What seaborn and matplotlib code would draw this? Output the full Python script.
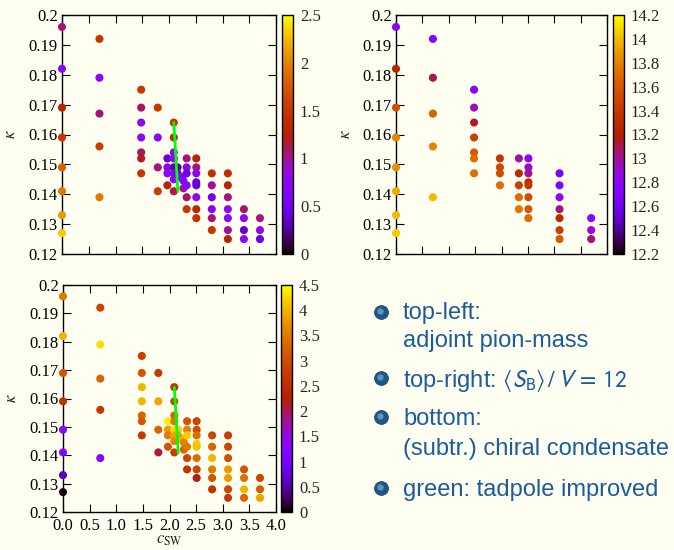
import numpy as np
import pandas as pd
import matplotlib
matplotlib.use("Agg")
import matplotlib.pyplot as plt
import seaborn as sns
from matplotlib.colors import Normalize
from matplotlib.cm import ScalarMappable

# parameter points (c_SW, kappa), shared by the pion-mass and condensate panels
csw = [0.0, 0.0, 0.0, 0.0, 0.0, 0.0, 0.0, 0.0,
       0.7, 0.7, 0.7, 0.7, 0.7,
       1.48, 1.48, 1.48, 1.48, 1.48, 1.48, 1.48,
       1.79, 1.79, 1.79, 1.79,
       1.97, 1.97, 1.97, 1.97,
       2.09, 2.09, 2.09, 2.09, 2.09, 2.09, 2.09, 2.09,
       2.16, 2.16, 2.2, 2.24, 2.27, 2.27,
       2.33, 2.33, 2.33, 2.33, 2.33, 2.33,
       2.51, 2.51, 2.51, 2.51, 2.51, 2.51, 2.51, 2.51,
       2.8, 2.8, 2.8, 2.8, 2.8, 2.8,
       3.1, 3.1, 3.1, 3.1, 3.1, 3.1, 3.1,
       3.4, 3.4, 3.4, 3.4,
       3.7, 3.7, 3.7]
kappa = [0.196, 0.182, 0.169, 0.159, 0.149, 0.141, 0.133, 0.127,
         0.192, 0.179, 0.167, 0.156, 0.139,
         0.175, 0.169, 0.164, 0.159, 0.154, 0.152, 0.147,
         0.169, 0.159, 0.149, 0.141,
         0.152, 0.149, 0.147, 0.143,
         0.164, 0.159, 0.154, 0.152, 0.149, 0.147, 0.145, 0.141,
         0.149, 0.147, 0.146, 0.1455, 0.1445, 0.142,
         0.152, 0.149, 0.147, 0.143, 0.139, 0.135,
         0.152, 0.149, 0.147, 0.144, 0.143, 0.139, 0.135, 0.132,
         0.147, 0.143, 0.139, 0.135, 0.132, 0.128,
         0.147, 0.143, 0.139, 0.135, 0.132, 0.128, 0.125,
         0.135, 0.132, 0.128, 0.125,
         0.132, 0.128, 0.125]
pion_mass = [1.05, 0.75, 1.3, 1.5, 1.8, 1.95, 2.1, 2.3,
             1.5, 0.75, 1.05, 1.55, 1.95,
             1.5, 1.1, 0.75, 0.75, 1.1, 1.2, 1.5,
             1.5, 0.75, 1.05, 1.55,
             0.4, 0.7, 0.75, 1.3,
             1.5, 1.35, 0.8, 0.7, 0.3, 0.7, 0.7, 1.15,
             0.3, 0.4, 0.6, 0.65, 0.7, 1.0,
             1.05, 0.75, 0.45, 0.7, 1.1, 1.5,
             1.3, 1.05, 0.75, 0.4, 0.4, 0.75, 1.35, 1.45,
             1.45, 1.0, 0.45, 0.75, 1.05, 1.5,
             1.4, 1.3, 1.05, 0.75, 0.7, 1.0, 1.3,
             1.1, 0.75, 0.4, 0.75,
             1.05, 0.8, 0.45]
condensate = [3.5, 4.0, 3.1, 2.6, 1.4, 1.2, 0.6, 0.05,
              2.9, 4.3, 3.3, 2.7, 1.2,
              2.8, 3.1, 4.0, 4.0, 3.3, 3.1, 2.7,
              2.7, 3.9, 3.3, 2.1,
              4.4, 3.8, 3.5, 3.1,
              2.6, 2.9, 3.3, 3.4, 4.3, 3.9, 3.6, 2.8,
              4.2, 3.9, 3.8, 4.0, 3.6, 3.3,
              3.1, 3.6, 4.2, 3.5, 2.9, 2.6,
              2.9, 3.0, 3.4, 4.2, 4.1, 3.4, 2.9, 2.2,
              2.9, 3.3, 4.0, 3.5, 3.1, 2.6,
              2.8, 2.9, 3.0, 3.8, 3.8, 2.9, 2.7,
              3.1, 3.4, 4.0, 3.3,
              2.9, 3.2, 3.9]

# subset used for the plaquette action <S_B>/V
csw_s = [0.0, 0.0, 0.0, 0.0, 0.0, 0.0, 0.0, 0.0,
         0.7, 0.7, 0.7, 0.7, 0.7,
         1.48, 1.48, 1.48, 1.48, 1.48, 1.48, 1.48,
         1.97, 1.97, 1.97, 1.97,
         2.33, 2.33, 2.33, 2.33, 2.33,
         2.51, 2.51, 2.51, 2.51, 2.51, 2.51, 2.51, 2.51,
         3.1, 3.1, 3.1, 3.1, 3.1, 3.1, 3.1,
         3.7, 3.7, 3.7]
kappa_s = [0.196, 0.182, 0.169, 0.159, 0.149, 0.141, 0.133, 0.127,
           0.192, 0.179, 0.167, 0.156, 0.139,
           0.175, 0.169, 0.164, 0.159, 0.154, 0.152, 0.147,
           0.152, 0.149, 0.147, 0.143,
           0.152, 0.147, 0.143, 0.139, 0.135,
           0.152, 0.149, 0.147, 0.144, 0.143, 0.139, 0.135, 0.132,
           0.147, 0.143, 0.139, 0.135, 0.132, 0.128, 0.125,
           0.132, 0.128, 0.125]
action = [12.8, 13.25, 13.55, 13.8, 13.85, 13.95, 14.0, 14.05,
          12.75, 13.1, 13.65, 13.8, 14.0,
          12.75, 12.95, 13.15, 13.45, 13.6, 13.7, 13.7,
          13.4, 13.5, 13.55, 13.7,
          12.95, 13.3, 13.45, 13.7, 13.75,
          12.75, 12.9, 13.0, 13.3, 13.4, 13.55, 13.6, 13.7,
          12.65, 12.75, 12.8, 13.05, 13.3, 13.45, 13.6,
          12.75, 12.9, 13.05]

# tadpole improved line
tad_csw = [2.09, 2.165]
tad_kappa = [0.164, 0.141]

cb_ticks_pion = [0, 0.5, 1, 1.5, 2, 2.5]
cb_ticks_action = [12.2, 12.4, 12.6, 12.8, 13.0, 13.2, 13.4, 13.6, 13.8, 14.0, 14.2]
cb_ticks_cond = [0, 0.5, 1, 1.5, 2, 2.5, 3, 3.5, 4, 4.5]

bullets = [
    ("top-left:", "adjoint pion-mass"),
    (r"top-right: $\langle S_{\mathrm{B}}\rangle\,/\,V\,=\,12$", None),
    ("bottom:", "(subtr.) chiral condensate"),
    ("green: tadpole improved", None),
]

bg = "#fefef1"
sns.set_theme(style="ticks")
plt.rcParams["font.family"] = ["Liberation Serif", "DejaVu Serif"]
plt.rcParams["figure.facecolor"] = bg
plt.rcParams["axes.facecolor"] = bg
plt.rcParams["axes.edgecolor"] = "black"
plt.rcParams["axes.linewidth"] = 1.0

fig = plt.figure(figsize=(6.74, 5.5), dpi=100)
W, H = 674, 550


def box(x0, x1, y0, y1):
    return [x0 / W, 1 - y1 / H, (x1 - x0) / W, (y1 - y0) / H]


def fmt(v):
    return f"{round(v, 2):g}"


def panel(rect, crect, x, y, v, vmin, vmax, cticks, xlabels, tadpole=True):
    ax = fig.add_axes(rect)
    cax = fig.add_axes(crect)
    df = pd.DataFrame({"csw": x, "kappa": y, "v": v})
    sns.scatterplot(data=df, x="csw", y="kappa", hue="v", palette="gnuplot",
                    hue_norm=(vmin, vmax), s=34, linewidth=0, legend=False,
                    ax=ax, clip_on=False, zorder=3)
    if tadpole:
        ax.plot(tad_csw, tad_kappa, color="#00ff00", lw=2, zorder=4)
    ax.set_xlim(0, 4)
    ax.set_ylim(0.12, 0.2)
    xt = np.arange(0, 4.01, 0.5)
    yt = np.arange(0.12, 0.2001, 0.01)
    ax.set_xticks(xt)
    ax.set_yticks(yt)
    ax.set_yticklabels([fmt(t) for t in yt])
    if xlabels:
        ax.set_xticklabels([f"{t:.1f}" for t in xt])
        ax.set_xlabel(r"$c_{\mathrm{SW}}$", fontsize=12, math_fontfamily="stix")
        ax.xaxis.set_label_coords(0.5, -0.09)
    else:
        ax.set_xticklabels([])
        ax.set_xlabel("")
    ax.set_ylabel(r"$\kappa$", fontsize=12, math_fontfamily="stix")
    ax.yaxis.set_label_coords(-0.2, 0.5)
    ax.tick_params(direction="in", length=5.5, width=0.8, top=True, right=True,
                   labelsize=12, colors="black")
    ax.tick_params(axis="y", pad=3)
    ax.tick_params(axis="x", pad=4)
    for s in ax.spines.values():
        s.set_visible(True)
        s.set_linewidth(1.0)

    sm = ScalarMappable(norm=Normalize(vmin, vmax), cmap="gnuplot")
    cb = fig.colorbar(sm, cax=cax)
    cb.set_ticks(cticks)
    cb.set_ticklabels([fmt(t) for t in cticks])
    cb.ax.tick_params(direction="in", length=3, width=0.8, left=True, right=True,
                      labelsize=12, pad=5)
    cb.outline.set_linewidth(1.0)
    return ax


panel(box(62, 276, 15, 254), box(282, 293, 15, 254),
      csw, kappa, pion_mass, 0, 2.5, cb_ticks_pion, False)
panel(box(396, 607, 15, 254), box(613, 624, 15, 254),
      csw_s, kappa_s, action, 12.2, 14.2, cb_ticks_action, False, tadpole=False)
panel(box(63, 276, 285, 512), box(281, 292, 285, 512),
      csw, kappa, condensate, 0, 4.5, cb_ticks_cond, True)

# bullet list on the right
txt_color = "#1c5c9c"
ball_y = [312, 378, 417, 488]
base_y = [[319, 347], [387], [425, 455], [496]]
bx = fig.add_axes([0, 0, 1, 1], facecolor="none")
bx.set_xlim(0, W)
bx.set_ylim(H, 0)
bx.axis("off")
for (l1, l2), yb, bl in zip(bullets, ball_y, base_y):
    bx.plot([381], [yb], "o", ms=10, color="#1f5784", mec="#163f63", mew=0.5)
    bx.plot([379.5], [yb - 1.5], "o", ms=4.5, color="#6fa3d0", alpha=0.8, mew=0)
    bx.text(403, bl[0], l1, fontsize=17, color=txt_color, va="baseline",
            family=["Liberation Sans", "DejaVu Sans"], math_fontfamily="stixsans")
    if l2:
        bx.text(403, bl[1], l2, fontsize=17, color=txt_color, va="baseline",
                family=["Liberation Sans", "DejaVu Sans"])

fig.savefig("out.png", dpi=100, facecolor=bg)
